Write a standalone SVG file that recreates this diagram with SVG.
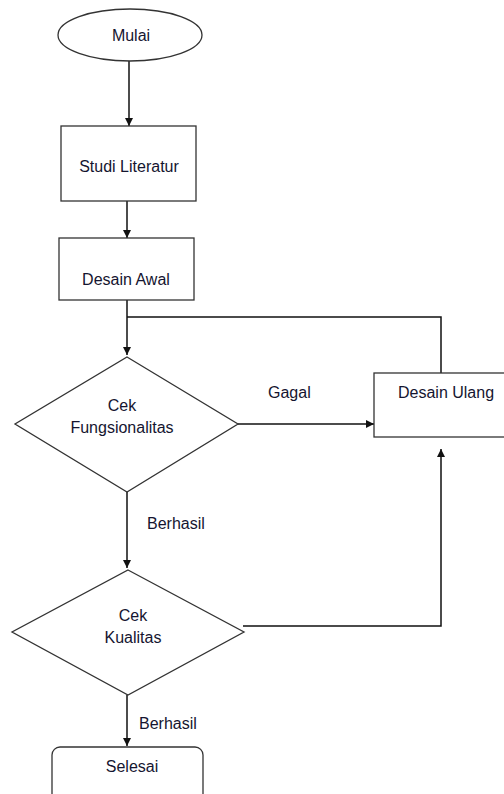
<svg xmlns="http://www.w3.org/2000/svg" width="504" height="794" viewBox="0 0 504 794">
<style>
.shape{fill:#fff;stroke:#333;stroke-width:1.3}
.edge{fill:none;stroke:#111;stroke-width:1.5}
text{font-family:"Liberation Sans",Arial,sans-serif;font-size:16px;fill:#151530}
.c{text-anchor:middle}
</style>
<defs>
<marker id="arr" viewBox="0 0 10 10" refX="10" refY="5" markerWidth="8" markerHeight="8" markerUnits="userSpaceOnUse" orient="auto">
<path d="M0,0 L10,5 L0,10 z" fill="#111"/>
</marker>
</defs>
<rect width="504" height="794" fill="#fff"/>
<g id="connectors">
<line class="edge" x1="129" y1="61" x2="129" y2="126" marker-end="url(#arr)"/>
<line class="edge" x1="127" y1="201" x2="127" y2="238" marker-end="url(#arr)"/>
<line class="edge" x1="127" y1="300" x2="127" y2="355" marker-end="url(#arr)"/>
<polyline class="edge" points="441,373 441,317 127,317"/>
<line class="edge" x1="238" y1="424" x2="374" y2="424" marker-end="url(#arr)"/>
<line class="edge" x1="127" y1="492" x2="127" y2="568" marker-end="url(#arr)"/>
<polyline class="edge" points="243,626 441,626 441,449" marker-end="url(#arr)"/>
<line class="edge" x1="127" y1="695" x2="127" y2="746" marker-end="url(#arr)"/>
<text x="268" y="398">Gagal</text>
<text x="147" y="529">Berhasil</text>
<text x="139" y="729">Berhasil</text>
</g>
<g id="mulai">
<ellipse class="shape" cx="130" cy="35" rx="72" ry="26"/>
<text class="c" x="131" y="41">Mulai</text>
</g>
<g id="studi">
<rect class="shape" x="61" y="126" width="135" height="75"/>
<text class="c" x="129" y="172">Studi Literatur</text>
</g>
<g id="desain-awal">
<rect class="shape" x="59" y="238" width="135" height="62"/>
<text class="c" x="126" y="285">Desain Awal</text>
</g>
<g id="cek-fungsi">
<polygon class="shape" points="127,357 238,424 127,492 15,424"/>
<text class="c" x="122" y="411">Cek</text>
<text class="c" x="122" y="433">Fungsionalitas</text>
</g>
<g id="desain-ulang">
<rect class="shape" x="374" y="373" width="140" height="64"/>
<text x="398" y="398">Desain Ulang</text>
</g>
<g id="cek-kualitas">
<polygon class="shape" points="128,570 244,632 128,695 12,632"/>
<text class="c" x="133" y="621">Cek</text>
<text class="c" x="133" y="643">Kualitas</text>
</g>
<g id="selesai">
<rect class="shape" x="52" y="747" width="151" height="60" rx="8"/>
<text class="c" x="132" y="772">Selesai</text>
</g>
</svg>
